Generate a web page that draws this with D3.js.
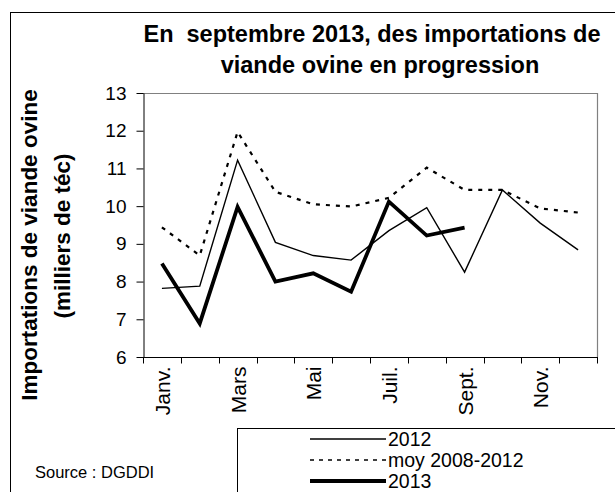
<!DOCTYPE html>
<html>
<head>
<meta charset="utf-8">
<script src="https://cdn.jsdelivr.net/npm/d3@7"></script>
<style>
  body { margin: 0; background: #fff; }
  svg { display: block; font-family: "Liberation Sans", Arial, sans-serif; }
</style>
</head>
<body>
<div id="chart"></div>
<script>
// mois (une étiquette sur deux affichée)
const months = ['Janv.', 'Févr.', 'Mars', 'Avr.', 'Mai', 'Juin', 'Juil.', 'Août', 'Sept.', 'Oct.', 'Nov.', 'Déc.'];
const shownLabels = ['Janv.', 'Mars', 'Mai', 'Juil.', 'Sept.', 'Nov.'];

const v2012 = [7.82, 7.88, 11.22, 9.04, 8.69, 8.57, 9.35, 9.96, 8.25, 10.43, 9.55, 8.84];
const vMoy  = [9.44, 8.69, 11.97, 10.38, 10.05, 9.99, 10.22, 11.02, 10.43, 10.43, 9.94, 9.83];
const v2013 = [8.48, 6.89, 9.98, 8.0, 8.22, 7.73, 10.12, 9.22, 9.43];

const yTicks = [6, 7, 8, 9, 10, 11, 12, 13];

const W = 615, H = 492;
const plot = { left: 143, top: 93, right: 597, bottom: 357 };
const FONT = '"Liberation Sans", Arial, sans-serif';

const svg = d3.select('#chart').append('svg')
  .attr('width', W).attr('height', H);

// cadre général
svg.append('rect')
  .attr('x', 10.5).attr('y', 12.5)
  .attr('width', W).attr('height', H)
  .attr('fill', 'none').attr('stroke', '#000').attr('stroke-width', 1);

// titre
svg.append('text')
  .attr('x', 372).attr('y', 42)
  .attr('text-anchor', 'middle')
  .attr('font-size', 23.5).attr('font-weight', 'bold')
  .style('white-space', 'pre')
  .text('En  septembre 2013, des importations de');
svg.append('text')
  .attr('x', 380).attr('y', 73)
  .attr('text-anchor', 'middle')
  .attr('font-size', 23.5).attr('font-weight', 'bold')
  .text('viande ovine en progression');

const x = d3.scaleBand().domain(months).range([plot.left, plot.right]);
const y = d3.scaleLinear().domain([6, 13]).range([plot.bottom, plot.top]);

// bord haut/droit du graphique
svg.append('path')
  .attr('d', `M${plot.left},${plot.top + 0.5}H${plot.right + 0.5}V${plot.bottom}`)
  .attr('fill', 'none').attr('stroke', '#808080').attr('stroke-width', 1.2);

// axe Y
const yAxis = svg.append('g')
  .attr('transform', `translate(${plot.left + 0.5},0)`)
  .call(d3.axisLeft(y).tickValues(yTicks).tickFormat(d3.format('d'))
    .tickSize(7).tickPadding(10).tickSizeOuter(0));
yAxis.select('.domain').attr('stroke', '#000');
yAxis.selectAll('.tick line').attr('stroke', '#000');
yAxis.selectAll('.tick text')
  .attr('font-size', 19).attr('font-family', FONT).attr('fill', '#000');

// axe X : graduations entre les mois
const xAxis = svg.append('g')
  .attr('transform', `translate(0,${plot.bottom + 0.5})`);
xAxis.append('line')
  .attr('x1', plot.left).attr('x2', plot.right + 1)
  .attr('stroke', '#000');
const bounds = months.map(m => x(m)).concat([x(months[months.length - 1]) + x.bandwidth()]);
xAxis.selectAll('line.tk').data(bounds).join('line')
  .attr('class', 'tk')
  .attr('x1', d => Math.round(d) + 0.5).attr('x2', d => Math.round(d) + 0.5)
  .attr('y1', 0).attr('y2', 6)
  .attr('stroke', '#000');
xAxis.selectAll('text').data(shownLabels).join('text')
  .attr('transform', d => `translate(${x(d) + x.bandwidth() / 2 + 8},9) rotate(-90)`)
  .attr('text-anchor', 'end')
  .attr('font-size', 21)
  .text(d => d);

// titre axe Y
svg.append('text')
  .attr('transform', 'translate(37,245) rotate(-90)')
  .attr('text-anchor', 'middle')
  .attr('font-size', 22.5).attr('font-weight', 'bold')
  .text('Importations de viande ovine');
svg.append('text')
  .attr('transform', 'translate(70,236) rotate(-90)')
  .attr('text-anchor', 'middle')
  .attr('font-size', 22.5).attr('font-weight', 'bold')
  .text('(milliers de téc)');

const line = d3.line()
  .x((d, i) => x(months[i]) + x.bandwidth() / 2)
  .y(d => y(d));

const series = [
  { name: '2012', values: v2012, width: 1.4, dash: null },
  { name: 'moy 2008-2012', values: vMoy, width: 2.2, dash: '4,6' },
  { name: '2013', values: v2013, width: 3.8, dash: null }
];

svg.selectAll('path.serie').data(series).join('path')
  .attr('class', 'serie')
  .attr('d', d => line(d.values))
  .attr('fill', 'none')
  .attr('stroke', '#000')
  .attr('stroke-width', d => d.width)
  .attr('stroke-dasharray', d => d.dash)
  .attr('stroke-linejoin', 'miter');

// légende
svg.append('rect')
  .attr('x', 237.5).attr('y', 428.5)
  .attr('width', 430).attr('height', 80)
  .attr('fill', '#fff').attr('stroke', '#000');
const legRows = [446, 467, 488];
const leg = svg.selectAll('g.leg').data(series).join('g')
  .attr('class', 'leg')
  .attr('transform', (d, i) => `translate(0,${legRows[i]})`);
leg.append('line')
  .attr('x1', 310).attr('x2', 386)
  .attr('y1', -7).attr('y2', -7)
  .attr('stroke', '#000')
  .attr('stroke-width', d => d.name === 'moy 2008-2012' ? 1.4 : d.width)
  .attr('stroke-dasharray', d => d.dash ? '4,5' : null);
leg.append('text')
  .attr('x', 388).attr('y', 0)
  .attr('font-size', 19.5)
  .text(d => d.name);

// source
svg.append('text')
  .attr('x', 35).attr('y', 478)
  .attr('font-size', 16.5)
  .text('Source : DGDDI');
</script>
</body>
</html>
